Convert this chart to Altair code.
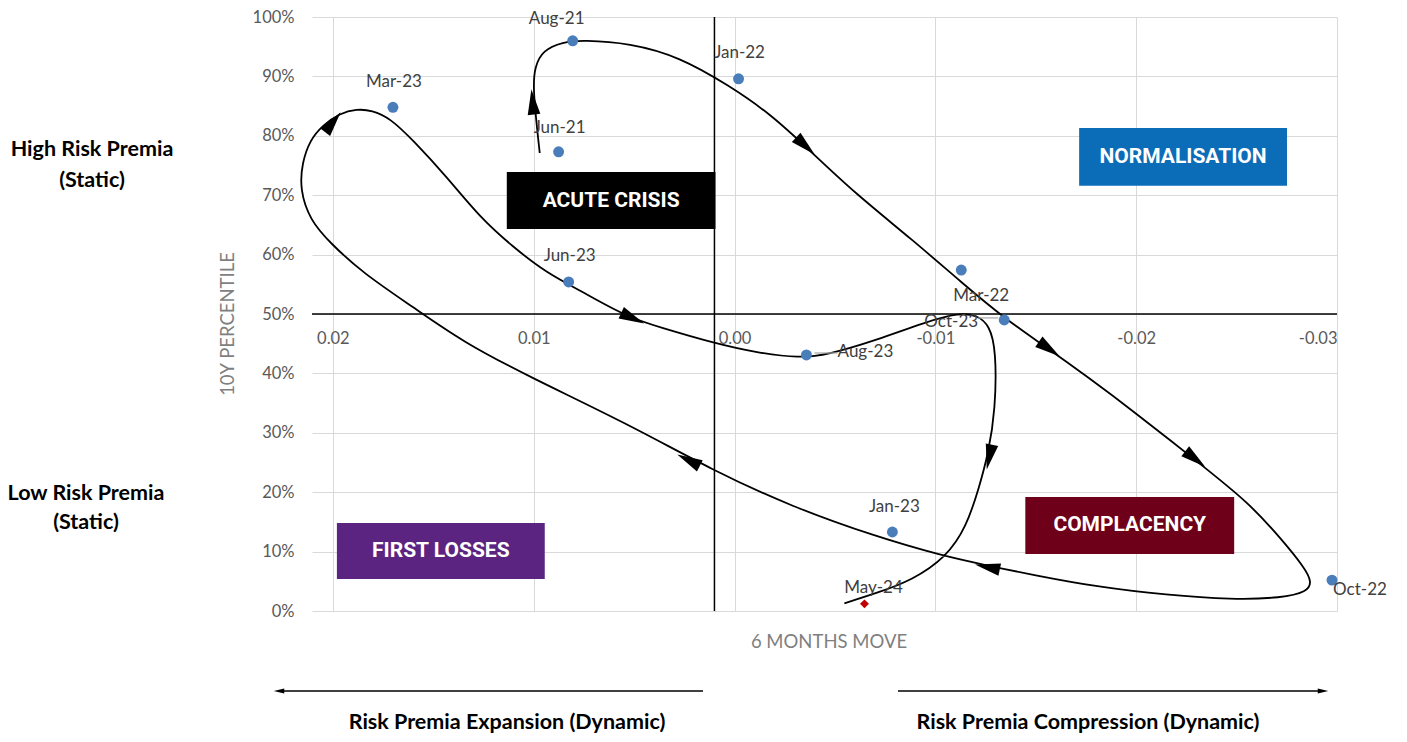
import altair as alt
import pandas as pd

# ---- monthly observations: 6-month move vs 10y percentile ----
labels = ["Jun-21", "Aug-21", "Jan-22", "Mar-22", "Oct-22", "Jan-23",
          "Mar-23", "Jun-23", "Aug-23", "Oct-23"]
move_6m = [0.00876, 0.00806, -0.00020, -0.01129, -0.02975, -0.00786,
           0.01701, 0.00826, -0.00358, -0.01343]
pctl_10y = [0.773, 0.960, 0.896, 0.574, 0.052, 0.133,
            0.848, 0.554, 0.431, 0.490]

# latest reading
latest_label = ["May-24"]
latest_move = [-0.00647]
latest_pctl = [0.012]

# ---- hand-drawn cycle path through the regimes ----
path_move = [0.00970, 0.01005, 0.00995, 0.00955, 0.00856, 0.00756, 0.00522, 0.00274,
             0.00025, -0.00174, -0.00373, -0.00597, -0.00886, -0.01134, -0.01343,
             -0.01552, -0.01766, -0.01980, -0.02313, -0.02562, -0.02726, -0.02836,
             -0.02876, -0.02851, -0.02726, -0.02478, -0.02149, -0.01816, -0.01483,
             -0.01254, -0.01035, -0.00706, -0.00289, 0.00104, 0.00537, 0.01020,
             0.01353, 0.01602, 0.01851, 0.02015, 0.02114, 0.02164, 0.02154, 0.02114,
             0.02050, 0.01965, 0.01881, 0.01806, 0.01716, 0.01602, 0.01433, 0.01269,
             0.01104, 0.00935, 0.00771, 0.00537, 0.00373, 0.00104, -0.00124,
             -0.00323, -0.00458, -0.00706, -0.00955, -0.01119, -0.01209, -0.01269,
             -0.01303, -0.01299, -0.01264, -0.01219, -0.01154, -0.01055, -0.00886,
             -0.00706, -0.00547]
path_pctl = [0.771, 0.880, 0.916, 0.944, 0.958, 0.961, 0.956, 0.933,
             0.884, 0.838, 0.776, 0.704, 0.625, 0.552, 0.493,
             0.444, 0.392, 0.338, 0.249, 0.182, 0.120, 0.074,
             0.049, 0.032, 0.022, 0.019, 0.027, 0.040, 0.061,
             0.077, 0.093, 0.125, 0.175, 0.236, 0.316, 0.394,
             0.453, 0.512, 0.569, 0.620, 0.658, 0.709, 0.754, 0.793,
             0.818, 0.838, 0.845, 0.843, 0.830, 0.793, 0.731, 0.663,
             0.613, 0.569, 0.540, 0.495, 0.478, 0.451, 0.434,
             0.426, 0.431, 0.456, 0.487, 0.502, 0.498, 0.481,
             0.439, 0.338, 0.266, 0.209, 0.141, 0.091, 0.052,
             0.030, 0.013]

# direction arrows along the path (position + heading in degrees)
arrow_move = [0.01005, -0.00353, 0.00507, -0.01567, -0.02294, -0.01259, 0.00229, 0.02000, -0.01269]
arrow_pctl = [0.857, 0.783, 0.493, 0.441, 0.256, 0.074, 0.254, 0.823, 0.259]
arrow_heading = [354, 133, 115, 125, 128, 282, 297, 38, 192]

# regime boxes
box_names = ["ACUTE CRISIS", "NORMALISATION", "COMPLACENCY", "FIRST LOSSES"]
box_x1 = [0.01134, -0.01716, -0.01448, 0.01980]
box_x2 = [0.00095, -0.02751, -0.02488, 0.00945]
box_y1 = [0.739, 0.813, 0.192, 0.148]
box_y2 = [0.643, 0.716, 0.096, 0.054]
box_colors = ["#000000", "#0b6cb8", "#6f001a", "#5b2480"]

x_ticks = [0.02, 0.01, 0.0, -0.01, -0.02, -0.03]
y_ticks = [0.0, 0.1, 0.2, 0.3, 0.4, 0.5, 0.6, 0.7, 0.8, 0.9, 1.0]
axis_cross_x = 0.001
axis_cross_y = 0.5

FONT = "Lato"
GRAY = "#595959"

x_scale = alt.Scale(domain=[-0.03, 0.02104], reverse=True, nice=False, zero=False)
y_scale = alt.Scale(domain=[0, 1], nice=False, zero=False)
x_axis = alt.Axis(values=x_ticks, labelExpr="replace(format(datum.value, '.2f'), '\u2212', '-')",
                  offset=-298, domain=False, ticks=False, tickSize=0, labelPadding=17,
                  grid=True, gridColor="#d9d9d9", gridWidth=1, labelFont=FONT,
                  labelFontSize=16.5, labelColor=GRAY, title=None)
y_axis = alt.Axis(values=y_ticks, format=".0%", domain=False, ticks=False, tickSize=0,
                  labelPadding=18, grid=True, gridColor="#d9d9d9", gridWidth=1,
                  labelFont=FONT, labelFontSize=16.5, labelColor=GRAY, title=None)


def X(field, **kw):
    return alt.X(field, type="quantitative", scale=x_scale, axis=x_axis, **kw)


def Y(field, **kw):
    return alt.Y(field, type="quantitative", scale=y_scale, axis=y_axis, **kw)


pts = pd.DataFrame({"label": labels + latest_label,
                    "x": move_6m + latest_move,
                    "y": pctl_10y + latest_pctl})
path = pd.DataFrame({"i": list(range(len(path_move))), "x": path_move, "y": path_pctl})
arrows = pd.DataFrame({"x": arrow_move, "y": arrow_pctl, "ang": arrow_heading})
boxes = pd.DataFrame({"name": box_names, "x1": box_x1, "x2": box_x2, "y1": box_y1, "y2": box_y2})
boxes["cx"] = (boxes["x1"] + boxes["x2"]) / 2
boxes["cy"] = (boxes["y1"] + boxes["y2"]) / 2
one = pd.DataFrame({"k": [0]})
cross = pd.DataFrame({"x": [axis_cross_x], "y": [axis_cross_y], "lo": [0.0], "hi": [1.0],
                      "xl": [0.02104], "xr": [-0.03]})

ARROW = "M0,-1L0.5,1L-0.5,1Z"

layers = []

# regime boxes and their captions
layers.append(alt.Chart(boxes).mark_rect().encode(
    x=X("x1"), x2="x2", y=Y("y1"), y2="y2",
    color=alt.Color("name:N", scale=alt.Scale(domain=box_names, range=box_colors), legend=None)))
layers.append(alt.Chart(boxes).mark_text(font="Roboto", fontWeight="bold", fontSize=21,
                                         color="white", baseline="middle").encode(
    x=X("cx"), y=Y("cy"), text="name:N"))

# axis cross lines
layers.append(alt.Chart(cross).mark_rule(color="#000000", strokeWidth=1.5).encode(
    x=X("x"), y=Y("lo"), y2="hi"))
layers.append(alt.Chart(cross).mark_rule(color="#000000", strokeWidth=1.5).encode(
    x=X("xl"), x2="xr", y=Y("y")))

# cycle path
layers.append(alt.Chart(path).mark_line(color="#000000", strokeWidth=1.8,
                                        interpolate="basis").encode(
    x=X("x"), y=Y("y"), order="i:Q"))
layers.append(alt.Chart(arrows).mark_point(shape=ARROW, filled=True, color="#000000",
                                           opacity=1, size=640).encode(
    x=X("x"), y=Y("y"), angle=alt.Angle("ang:Q", scale=None)))

# observations
layers.append(alt.Chart(pts).transform_filter(alt.datum.label != "May-24").mark_circle(
    color="#4a7ebb", opacity=1, size=120).encode(x=X("x"), y=Y("y")))
layers.append(alt.Chart(pts).transform_filter(alt.datum.label == "May-24").mark_point(
    shape="diamond", filled=True, color="#c00000", opacity=1, size=80).encode(x=X("x"), y=Y("y")))

# leader lines for the two labels set aside
layers.append(alt.Chart(pts).transform_filter(alt.datum.label == "Aug-23").mark_rule(
    color="#a6a6a6", strokeWidth=1.2, xOffset=8, x2Offset=31, yOffset=-2).encode(
    x=X("x"), x2="x", y=Y("y")))
layers.append(alt.Chart(pts).transform_filter(alt.datum.label == "Oct-23").mark_rule(
    color="#a6a6a6", strokeWidth=1.2, xOffset=-26, x2Offset=-6, yOffset=-2).encode(
    x=X("x"), x2="x", y=Y("y")))

label_offsets = {
    "Jun-21": (1, -24), "Aug-21": (-16, -22), "Jan-22": (1, -26), "Mar-22": (20, 26),
    "Oct-22": (28, 10), "Jan-23": (2, -25), "Mar-23": (1, -25), "Jun-23": (1, -26),
    "Aug-23": (59, -3), "Oct-23": (-53, 2), "May-24": (9, -16),
}
for lab, (dx, dy) in label_offsets.items():
    layers.append(alt.Chart(pts).transform_filter(alt.datum.label == lab).mark_text(
        dx=dx, dy=dy, font=FONT, fontSize=17, color="#404040", baseline="middle").encode(
        x=X("x"), y=Y("y"), text="label:N"))

# annotations outside the plot area
def note(text, x, y, size=21.5, weight="bold", color="#000000", angle=0, font=FONT):
    return alt.Chart(one).mark_text(text=text, font=font, fontSize=size, fontWeight=weight,
                                    color=color, angle=angle, baseline="middle").encode(
        x=alt.value(x), y=alt.value(y))

layers += [
    note("High Risk Premia", -220, 133),
    note("(Static)", -220, 164),
    note("Low Risk Premia", -226, 477),
    note("(Static)", -226, 506),
    note("10Y PERCENTILE", -84, 307, size=18.5, weight="normal", color="#7f7f7f", angle=270),
    note("6 MONTHS MOVE", 517, 625, size=18.5, weight="normal", color="#7f7f7f"),
    note("Risk Premia Expansion (Dynamic)", 195, 706),
    note("Risk Premia Compression (Dynamic)", 776, 706),
]

layers.append(alt.Chart(one).mark_rule(color="#404040", strokeWidth=2).encode(
    x=alt.value(-33), x2=alt.value(391), y=alt.value(674)))
layers.append(alt.Chart(one).mark_rule(color="#404040", strokeWidth=2).encode(
    x=alt.value(586), x2=alt.value(1011), y=alt.value(674)))
layers.append(alt.Chart(one).mark_point(shape=ARROW, filled=True, color="#000000", opacity=1,
                                        size=110, angle=270).encode(
    x=alt.value(-33), y=alt.value(674)))
layers.append(alt.Chart(one).mark_point(shape=ARROW, filled=True, color="#000000", opacity=1,
                                        size=110, angle=90).encode(
    x=alt.value(1011), y=alt.value(674)))

chart = alt.layer(*layers).properties(
    width=1025, height=594,
    padding={"left": 312, "top": 17, "right": 70, "bottom": 131},
    autosize=alt.AutoSizeParams(type="none"),
    background="white",
).configure_view(stroke=None)

chart.save("out.html", embed_options={"renderer": "svg", "actions": False})
